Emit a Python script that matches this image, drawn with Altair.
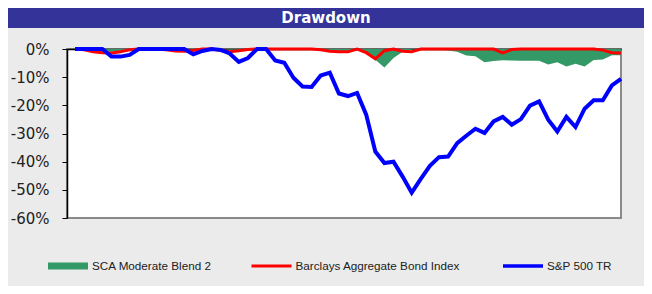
import altair as alt
import pandas as pd

# ---- data (monthly drawdowns, in %) ----
series_names = ["SCA Moderate Blend 2", "Barclays Aggregate Bond Index", "S&P 500 TR"]
sp500 = [0, 0, 0, 0, -2.7, -2.7, -2.1, 0, 0, 0,
         0, 0, 0, -1.9, -0.7, 0, -0.3, -1.6, -4.6, -3.2,
         0, 0, -4.1, -4.9, -10.2, -13.3, -13.5, -9.4, -8.4, -15.8,
         -16.7, -15.6, -23.3, -36.4, -40.5, -40.0, -45.3, -51.0, -46.1, -41.5,
         -38.4, -38.2, -33.4, -30.8, -28.3, -29.8, -25.7, -24.1, -26.9, -24.9,
         -20.1, -18.6, -25.1, -29.3, -24.1, -27.7, -21.2, -18.2, -18.2, -12.9,
         -10.6]
barclays = [0, -0.3, -1.0, -1.3, -1.4, -1.0, -0.3, 0, 0, 0,
            -0.3, -0.7, -0.8, -0.5, 0, 0, -0.5, -1.0, -0.6, -0.2,
            0, 0, 0, 0, 0, 0, 0, -0.3, -0.8, -1.0,
            -1.0, 0, -1.3, -3.5, -0.6, 0, -0.8, -1.0, 0, 0,
            0, 0, 0, 0, 0, 0, 0, -1.4, -0.2, 0,
            0, 0, 0, 0, 0, 0, 0, 0, -0.4, -1.3,
            -1.4]
sca = [0, -0.2, -0.7, -0.9, -1.0, -0.6, -0.2, 0, 0, 0,
       0, -0.2, -0.2, -0.2, 0, 0, 0, -0.3, -0.3, 0,
       0, 0, 0, 0, 0, 0, 0, -0.1, -0.4, -0.6,
       -0.6, -0.3, -1.5, -3.8, -6.6, -3.2, -1.0, -0.3, 0, 0,
       0, -0.5, -1.0, -2.3, -2.6, -4.7, -4.3, -4.0, -4.1, -4.2,
       -4.2, -4.2, -5.5, -4.7, -6.2, -5.2, -6.2, -3.9, -3.7, -2.2,
       -2.2]
y_ticks = [0, -0.1, -0.2, -0.3, -0.4, -0.5, -0.6]
colors = ["#339966", "#FF0000", "#0000FF"]

rows = []
for name, vals in zip(series_names, [sca, barclays, sp500]):
    for i, v in enumerate(vals):
        rows.append({"idx": i, "series": name, "value": v / 100.0})
df = pd.DataFrame(rows)

W, H = 554, 169

x_scale = alt.Scale(domain=[-0.88, 60], nice=False, zero=False)
y_scale = alt.Scale(domain=[-0.6, 0], nice=False)
color_scale = alt.Scale(domain=series_names, range=colors)
color = alt.Color("series:N", scale=color_scale, legend=None)

x_axis = alt.Axis(orient="top", labels=False, ticks=False, title=None,
                  domainColor="#000000", domainWidth=1.5, grid=False)
y_axis = alt.Axis(values=y_ticks, labelExpr="round(datum.value*100) + '%'",
                  title=None, grid=False, domainColor="#000000", domainWidth=1.5,
                  tickColor="#000000", tickSize=5, labelPadding=13, labelOverlap=False,
                  labelFont="DejaVu Sans", labelFontSize=15, labelColor="#222222")
x_enc = alt.X("idx:Q", scale=x_scale, axis=x_axis)
y_enc = alt.Y("value:Q", scale=y_scale, axis=y_axis)

base = alt.Chart(df)
area = base.transform_filter(alt.datum.series == series_names[0]).mark_area(opacity=1).encode(
    x=x_enc, y=y_enc, color=color)
red = base.transform_filter(alt.datum.series == series_names[1]).mark_line(strokeWidth=3).encode(
    x=x_enc, y=y_enc, color=color)
blue = base.transform_filter(alt.datum.series == series_names[2]).mark_line(strokeWidth=4).encode(
    x=x_enc, y=y_enc, color=color)

# ---- title bar ----
title_df = pd.DataFrame({"t": ["Drawdown"]})
title_bar = alt.Chart(title_df).mark_rect(color="#333399").encode(
    x=alt.value(-59), x2=alt.value(577), y=alt.value(-41), y2=alt.value(-21))
title_text = alt.Chart(title_df).mark_text(
    color="white", font="DejaVu Sans", fontWeight="bold", fontSize=15, baseline="middle", align="center"
).encode(text="t:N", x=alt.value(259), y=alt.value(-31))

# ---- legend (manual, using the shared colour scale) ----
legend_layers = []
leg_x = [-19, 184.5, 436]
leg_w = [7, 3, 3.5]
leg_y = 217
for name, lx, lw in zip(series_names, leg_x, leg_w):
    ldf = pd.DataFrame({"series": [name]})
    legend_layers.append(
        alt.Chart(ldf).mark_rule(strokeWidth=lw).encode(
            x=alt.value(lx), x2=alt.value(lx + 40), y=alt.value(leg_y), color=color))
    legend_layers.append(
        alt.Chart(ldf).mark_text(align="left", baseline="middle", font="Liberation Sans",
                                 fontSize=11.7, color="#222222").encode(
            text="series:N", x=alt.value(lx + 44), y=alt.value(leg_y)))

chart = alt.layer(area, red, blue, title_bar, title_text, *legend_layers).properties(
    width=W, height=H,
    background="#EBEBEB",
    padding={"left": 59, "top": 41, "right": 23, "bottom": 68},
    autosize=alt.AutoSizeParams(type="none"),
).configure_view(fill="white", stroke="#8a8a8a", strokeWidth=2)

chart.save("out.html", embed_options={"renderer": "svg", "actions": False})
